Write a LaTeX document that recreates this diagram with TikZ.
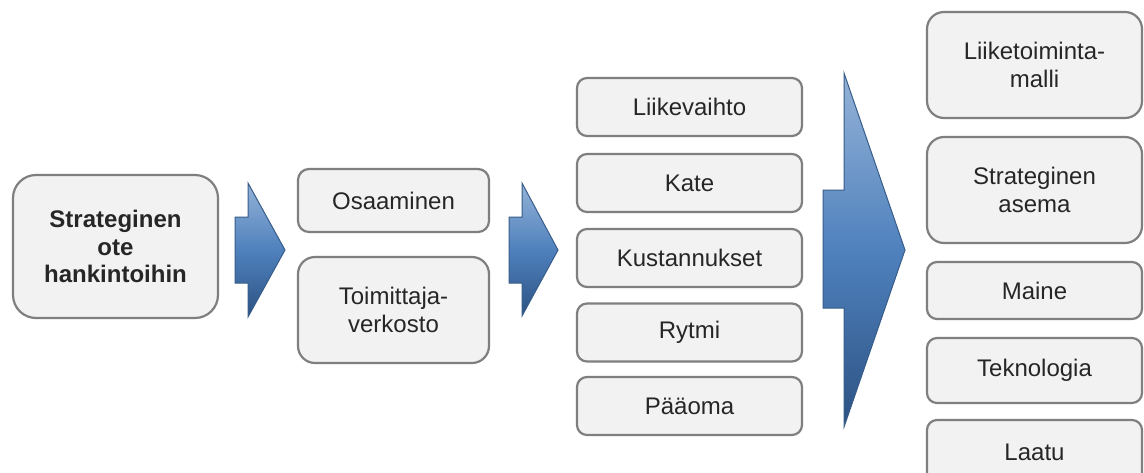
\documentclass[tikz,border=0pt]{standalone}
\usepackage{fontspec}
\setmainfont{Liberation Sans}
\definecolor{boxfill}{HTML}{F2F2F2}
\definecolor{boxline}{HTML}{7F7F7F}
\definecolor{boxtext}{HTML}{262626}
\definecolor{arrtop}{HTML}{95B3D7}
\definecolor{arrmid}{HTML}{4F81BD}
\definecolor{arrbot}{HTML}{2C5283}
\definecolor{arrline}{HTML}{385D8A}
\tikzset{
  box/.style={draw=boxline, line width=2.2pt, fill=boxfill, text=boxtext,
    inner sep=0pt, align=center, font=\fontsize{24}{27.6}\selectfont},
  flow/.style={draw=arrline, line width=1pt, line join=miter,
    top color=arrtop, bottom color=arrbot, middle color=arrmid}
}
\begin{document}
\begin{tikzpicture}[x=1pt, y=-1pt]
\useasboundingbox (0,0) rectangle (1144,472);
\clip (0,0) rectangle (1144,472);
\fill[white] (0,0) rectangle (1144,472);

% starting point
\node[box, rounded corners=23pt, minimum width=205pt, minimum height=143pt,
  font=\fontsize{24}{27.6}\selectfont\bfseries] (start) at (115.5,246.5)
  {Strateginen\\ote\\hankintoihin};

% first arrow
\draw[flow] (235,217) -- (248,217) -- (248,183) -- (285,250) -- (248,317)
  -- (248,283) -- (235,283) -- cycle;

% capabilities
\node[box, rounded corners=11pt, minimum width=191pt, minimum height=63pt]
  (osaaminen) at (393.5,200.5) {Osaaminen};
\node[box, rounded corners=17pt, minimum width=191pt, minimum height=106pt]
  (verkosto) at (393.5,310) {Toimittaja-\\verkosto};

% second arrow
\draw[flow] (509,217) -- (522,217) -- (522,183) -- (558,250) -- (522,316)
  -- (522,283) -- (509,283) -- cycle;

% financial effects
\tikzset{mid/.style={box, rounded corners=10pt, minimum width=225pt, minimum height=58pt}}
\node[mid] (liikevaihto) at (689.5,107) {Liikevaihto};
\node[mid] (kate) at (689.5,183) {Kate};
\node[mid] (kustannukset) at (689.5,258) {Kustannukset};
\node[mid] (rytmi) at (689.5,332.5) {Rytmi};
\node[mid] (paaoma) at (689.5,406) {Pääoma};

% third arrow
\draw[flow] (823,190) -- (844,190) -- (844,73) -- (905,250) -- (844,427)
  -- (844,308) -- (823,308) -- cycle;

% strategic effects
\tikzset{right/.style={box, minimum width=215pt}}
\node[right, rounded corners=17pt, minimum height=106pt] (malli) at (1034.5,65)
  {Liiketoiminta-\\malli};
\node[right, rounded corners=17pt, minimum height=106pt] (asema) at (1034.5,190)
  {Strateginen\\asema};
\node[right, rounded corners=10pt, minimum height=57pt] (maine) at (1034.5,290.5)
  {Maine};
\node[right, rounded corners=10pt, minimum height=65pt] (teknologia) at (1034.5,370.5)
  {Teknologia};
\node[right, rounded corners=10pt, minimum height=65pt] (laatu) at (1034.5,452.5)
  {Laatu};
\end{tikzpicture}
\end{document}
